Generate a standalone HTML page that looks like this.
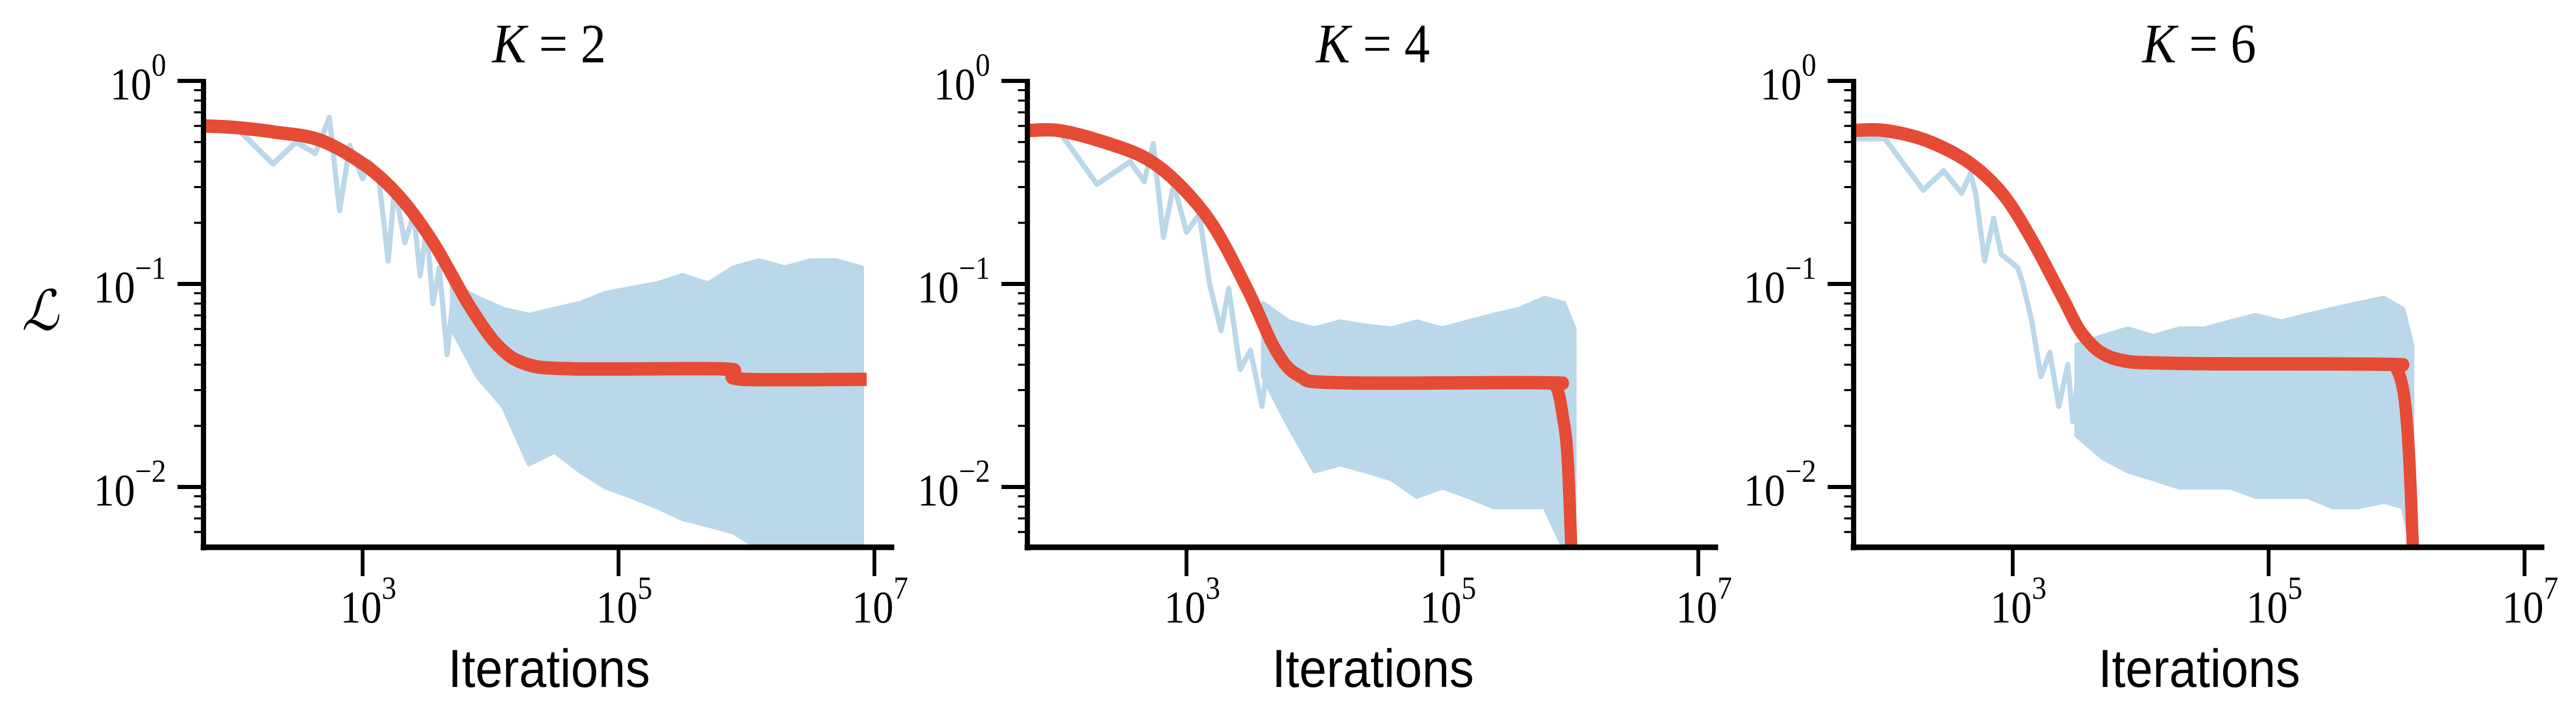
<!DOCTYPE html>
<html><head><meta charset="utf-8"><style>
html,body{margin:0;padding:0;background:#fff;width:100%;height:100%;overflow:hidden;}
svg{display:block;width:100vw;height:100vh;}
.tick{font-family:"Liberation Serif",serif;font-size:88px;fill:#000;}
.sup{font-size:62px;}
.ttl{font-family:"Liberation Serif",serif;font-size:108px;fill:#000;}
.xl{font-family:"Liberation Sans",sans-serif;font-size:104px;fill:#000;}
</style></head><body>
<svg id="fig" viewBox="0 0 5456 1403" preserveAspectRatio="none" xmlns="http://www.w3.org/2000/svg"></svg>
<script>
// ---- data (log10 iterations, loss values) ----
const panelTitles = ["2", "4", "6"];
const xTickExps = [3, 5, 7];
const yTickExps = [0, -1, -2];
// red smoothed curves
const red1X = [1.77, 2.0, 2.31, 2.67, 3.03, 3.30, 3.56, 3.83, 4.06, 4.28, 4.64, 5.80, 5.89, 5.98, 6.94];
const red1Y = [0.60, 0.59, 0.56, 0.51, 0.38, 0.264, 0.157, 0.079, 0.0495, 0.0403, 0.0382, 0.0382, 0.0363, 0.0339, 0.0339];
const red2X = [1.77, 2.0, 2.31, 2.67, 2.94, 3.21, 3.48, 3.70, 3.88, 4.19, 5.80, 5.89, 5.94, 5.98, 6.02];
const red2Y = [0.57, 0.57, 0.51, 0.42, 0.31, 0.193, 0.093, 0.047, 0.0353, 0.0326, 0.0326, 0.031, 0.0226, 0.0134, 0.003];
const red3X = [1.75, 2.0, 2.32, 2.65, 2.92, 3.15, 3.38, 3.56, 3.80, 4.30, 5.91, 6.00, 6.06, 6.10, 6.14];
const red3Y = [0.57, 0.57, 0.51, 0.40, 0.278, 0.165, 0.088, 0.055, 0.0428, 0.0406, 0.0402, 0.0382, 0.0278, 0.0134, 0.003];
// blue raw traces (early part)
const blue1X = [1.76, 2.0, 2.30, 2.48, 2.63, 2.74, 2.82, 2.90, 3.0, 3.05, 3.12, 3.2, 3.25, 3.33, 3.4, 3.45, 3.5, 3.55, 3.6, 3.66, 3.72, 3.78];
const blue1Y = [0.6, 0.6, 0.39, 0.50, 0.44, 0.66, 0.23, 0.48, 0.33, 0.40, 0.36, 0.13, 0.30, 0.16, 0.22, 0.11, 0.19, 0.08, 0.12, 0.045, 0.10, 0.06];
const blue2X = [1.77, 2.0, 2.30, 2.56, 2.67, 2.74, 2.82, 2.90, 3.0, 3.1, 3.18, 3.27, 3.33, 3.42, 3.5, 3.59, 3.65];
const blue2Y = [0.57, 0.57, 0.31, 0.40, 0.32, 0.49, 0.17, 0.31, 0.18, 0.22, 0.10, 0.059, 0.095, 0.038, 0.047, 0.025, 0.05];
const blue3X = [1.75, 2.0, 2.30, 2.46, 2.60, 2.67, 2.71, 2.78, 2.85, 2.91, 3.04, 3.08, 3.15, 3.22, 3.29, 3.36, 3.43, 3.47, 3.52];
const blue3Y = [0.52, 0.52, 0.29, 0.36, 0.28, 0.35, 0.28, 0.13, 0.21, 0.14, 0.12, 0.10, 0.065, 0.035, 0.046, 0.025, 0.04, 0.021, 0.04];
// blue noisy band envelopes
const band1X = [3.7, 3.9, 4.1, 4.3, 4.5, 4.7, 4.9, 5.1, 5.3, 5.5, 5.7, 5.9, 6.1, 6.3, 6.5, 6.7, 6.9];
const band1Hi = [0.10, 0.085, 0.075, 0.07, 0.075, 0.08, 0.09, 0.095, 0.10, 0.11, 0.10, 0.12, 0.13, 0.12, 0.13, 0.13, 0.12];
const band1Lo = [0.06, 0.035, 0.025, 0.013, 0.015, 0.012, 0.01, 0.009, 0.008, 0.007, 0.0065, 0.006, 0.005, 0.005, 0.005, 0.005, 0.005];
const band2X = [3.6, 3.8, 4.0, 4.2, 4.4, 4.6, 4.8, 5.0, 5.2, 5.4, 5.6, 5.8, 5.95, 6.03];
const band2Hi = [0.08, 0.065, 0.06, 0.065, 0.062, 0.06, 0.065, 0.06, 0.065, 0.07, 0.075, 0.085, 0.08, 0.06];
const band2Lo = [0.035, 0.02, 0.012, 0.013, 0.012, 0.011, 0.009, 0.01, 0.009, 0.008, 0.008, 0.008, 0.005, 0.005];
const band3X = [3.5, 3.7, 3.9, 4.1, 4.3, 4.5, 4.7, 4.9, 5.1, 5.3, 5.5, 5.7, 5.9, 6.05, 6.12];
const band3Hi = [0.05, 0.055, 0.06, 0.055, 0.06, 0.06, 0.065, 0.07, 0.065, 0.07, 0.075, 0.08, 0.085, 0.075, 0.05];
const band3Lo = [0.018, 0.014, 0.012, 0.011, 0.01, 0.01, 0.01, 0.009, 0.009, 0.009, 0.008, 0.008, 0.0085, 0.008, 0.005];

const panels = [
  {off: 0, rx: red1X, ry: red1Y, bx: blue1X, by: blue1Y, nx: band1X, nh: band1Hi, nl: band1Lo},
  {off: 1745, rx: red2X, ry: red2Y, bx: blue2X, by: blue2Y, nx: band2X, nh: band2Hi, nl: band2Lo},
  {off: 3495, rx: red3X, ry: red3Y, bx: blue3X, by: blue3Y, nx: band3X, nh: band3Hi, nl: band3Lo}
];

const NS = "http://www.w3.org/2000/svg";
const svg = document.getElementById("fig");
function mk(tag, attrs, parent) {
  const e = document.createElementNS(NS, tag);
  for (const k in attrs) e.setAttribute(k, attrs[k]);
  (parent || svg).appendChild(e);
  return e;
}
const AX_L = 431, AX_B = 1062, AX_T = 153, AX_R = 1894;
const YMIN = -2.3, YMAX = 0.01;
function xs(lg, off) { return off + 768 + (lg - 3) * 271; }
function ys(v) { return 157 - Math.log10(v) * 394; }
function smoothPath(pts) {
  let d = "M" + pts[0][0].toFixed(1) + "," + pts[0][1].toFixed(1);
  for (let i = 0; i < pts.length - 1; i++) {
    const p0 = pts[Math.max(0, i - 1)], p1 = pts[i], p2 = pts[i + 1], p3 = pts[Math.min(pts.length - 1, i + 2)];
    const t = 0.16;
    const c1 = [p1[0] + (p2[0] - p0[0]) * t, p1[1] + (p2[1] - p0[1]) * t];
    const c2 = [p2[0] - (p3[0] - p1[0]) * t, p2[1] - (p3[1] - p1[1]) * t];
    d += "C" + c1[0].toFixed(1) + "," + c1[1].toFixed(1) + " " + c2[0].toFixed(1) + "," + c2[1].toFixed(1) + " " + p2[0].toFixed(1) + "," + p2[1].toFixed(1);
  }
  return d;
}

panels.forEach((p, i) => {
  const g = mk("g", {});
  
  
  const o = p.off;
  const cid = "clip" + i;
  const cp = mk("clipPath", {id: cid}, g);
  mk("rect", {x: o + AX_L, y: AX_T, width: AX_R - AX_L, height: AX_B - AX_T}, cp);
  const plot = mk("g", {"clip-path": "url(#" + cid + ")"}, g);

  let d = "";
  p.nx.forEach((x, k) => { d += (k ? "L" : "M") + xs(x, o).toFixed(1) + "," + ys(p.nh[k]).toFixed(1); });
  for (let k = p.nx.length - 1; k >= 0; k--) d += "L" + xs(p.nx[k], o).toFixed(1) + "," + ys(p.nl[k]).toFixed(1);
  const band = mk("path", {d: d + "Z", fill: "#bbd7ea", stroke: "#bbd7ea", "stroke-width": 10, "stroke-linejoin": "round"}, plot);
  
  

  let bd = "";
  p.bx.forEach((x, k) => { bd += (k ? "L" : "M") + xs(x, o).toFixed(1) + "," + ys(p.by[k]).toFixed(1); });
  bd += "L" + xs(p.nx[0], o).toFixed(1) + "," + ys(p.nh[0]).toFixed(1);
  const bl = mk("path", {d: bd, fill: "none", stroke: "#bbd7ea", "stroke-width": 11, "stroke-linejoin": "round"}, plot);
  
  

  const rpts = p.rx.map((x, k) => [xs(x, o), ys(p.ry[k])]);
  const rl = mk("path", {d: smoothPath(rpts), fill: "none", stroke: "#e64b35", "stroke-width": 26, "stroke-linejoin": "round"}, plot);
  
  

  const ya = mk("line", {x1: o + AX_L, y1: AX_T, x2: o + AX_L, y2: AX_B + 6, stroke: "#000", "stroke-width": 11}, g);
  
  
  const xa = mk("line", {x1: o + AX_L - 6, y1: AX_B, x2: o + AX_R, y2: AX_B, stroke: "#000", "stroke-width": 11}, g);
  
  

  for (let dec = -3; dec <= 0; dec++) {
    for (let m = 2; m <= 9; m++) {
      const v = m * Math.pow(10, dec);
      const lg = Math.log10(v);
      if (lg < YMIN || lg > YMAX) continue;
      mk("line", {x1: o + AX_L - 20, y1: ys(v), x2: o + AX_L, y2: ys(v), stroke: "#000", "stroke-width": 4}, g);
    }
  }
  yTickExps.forEach(e => {
    const y = ys(Math.pow(10, e));
    mk("line", {x1: o + AX_L - 55, y1: y, x2: o + AX_L, y2: y, stroke: "#000", "stroke-width": 8}, g);
    const t = mk("text", {x: o + 352, y: y + 36, "text-anchor": "end", class: "tick"}, g);
    
    
    t.innerHTML = '10<tspan class="sup" dy="-46">' + (e < 0 ? '\u2212' + (-e) : e) + '</tspan>';
  });
  xTickExps.forEach(e => {
    const x = xs(e, o);
    mk("line", {x1: x, y1: AX_B, x2: x, y2: AX_B + 56, stroke: "#000", "stroke-width": 8}, g);
    const t = mk("text", {x: x + 12, y: 1208, "text-anchor": "middle", class: "tick"}, g);
    
    
    t.innerHTML = '10<tspan class="sup" dy="-46">' + e + '</tspan>';
  });
  const tt = mk("text", {x: o + 1163, y: 121, "text-anchor": "middle", class: "ttl"}, g);
  
  
  tt.innerHTML = '<tspan font-style="italic">K</tspan> = ' + panelTitles[i];
  const xl = mk("text", {x: o + 1163, y: 1333, "text-anchor": "middle", class: "xl"}, g);
  
  
  xl.textContent = "Iterations";
});
const yl = mk("text", {x: 85, y: 640, "text-anchor": "middle", class: "ttl", "font-style": "italic", "font-size": "110"});


yl.textContent = "\u2112";
</script>
</body></html>
